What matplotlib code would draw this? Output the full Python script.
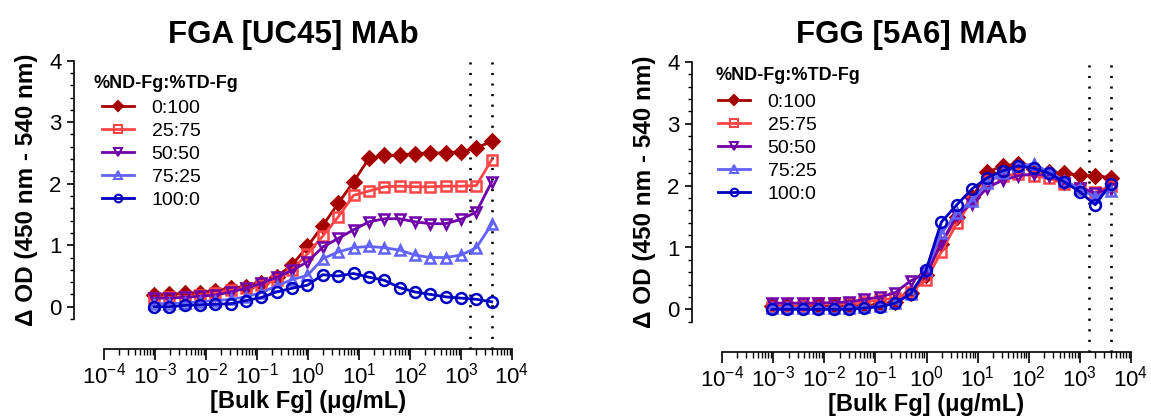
import matplotlib
matplotlib.use("Agg")
import matplotlib.pyplot as plt
from matplotlib.ticker import LogLocator, MultipleLocator, NullFormatter, FixedLocator
from matplotlib.lines import Line2D

plt.rcParams['font.family'] = ['Liberation Sans', 'DejaVu Sans']
plt.rcParams['mathtext.default'] = 'regular'

# 2-fold dilution series of bulk fibrinogen (ug/mL)
conc = [0.00095, 0.0019, 0.0038, 0.0076, 0.0153, 0.0305, 0.061, 0.122, 0.244,
        0.488, 0.977, 1.95, 3.91, 7.81, 15.6, 31.3, 62.5, 125, 250, 500,
        1000, 2000, 4000]

# normal plasma fibrinogen range
plasma_range = [1500, 4000]

mixes = ["0:100", "25:75", "50:50", "75:25", "100:0"]

# FGA [UC45] MAb
fga_0_100 = [0.19, 0.20, 0.22, 0.23, 0.26, 0.30, 0.32, 0.38, 0.49, 0.68, 0.98, 1.32, 1.68,
             2.03, 2.41, 2.46, 2.46, 2.49, 2.50, 2.50, 2.52, 2.58, 2.69]
fga_25_75 = [0.14, 0.15, 0.16, 0.19, 0.22, 0.27, 0.30, 0.35, 0.44, 0.60, 0.86, 1.15, 1.46,
             1.81, 1.88, 1.95, 1.96, 1.95, 1.95, 1.96, 1.96, 1.97, 2.39]
fga_50_50 = [0.14, 0.14, 0.15, 0.17, 0.19, 0.24, 0.30, 0.38, 0.48, 0.59, 0.73, 0.97, 1.11,
             1.25, 1.38, 1.43, 1.43, 1.38, 1.35, 1.35, 1.42, 1.54, 2.03]
fga_75_25 = [0.05, 0.05, 0.06, 0.08, 0.10, 0.12, 0.16, 0.23, 0.34, 0.44, 0.51, 0.78, 0.89,
             0.96, 0.98, 0.96, 0.92, 0.84, 0.80, 0.80, 0.84, 0.96, 1.34]
fga_100_0 = [0.00, 0.00, 0.02, 0.03, 0.04, 0.05, 0.10, 0.15, 0.24, 0.30, 0.35, 0.52, 0.50,
             0.54, 0.48, 0.43, 0.31, 0.24, 0.20, 0.16, 0.14, 0.12, 0.08]

# FGG [5A6] MAb
fgg_0_100 = [0.05, 0.05, 0.05, 0.05, 0.05, 0.05, 0.06, 0.08, 0.12, 0.26, 0.55, 1.06, 1.49,
             1.81, 2.22, 2.32, 2.35, 2.27, 2.22, 2.20, 2.17, 2.16, 2.13]
fgg_25_75 = [0.04, 0.04, 0.05, 0.10, 0.10, 0.10, 0.12, 0.15, 0.18, 0.28, 0.47, 0.93, 1.39,
             1.77, 2.08, 2.16, 2.19, 2.16, 2.12, 2.03, 1.97, 1.89, 2.00]
fgg_50_50 = [0.10, 0.10, 0.10, 0.10, 0.11, 0.12, 0.16, 0.20, 0.27, 0.46, 0.58, 1.07, 1.52,
             1.71, 1.97, 2.09, 2.16, 2.19, 2.16, 2.05, 1.97, 1.88, 1.95]
fgg_75_25 = [0.02, 0.02, 0.02, 0.02, 0.02, 0.02, 0.03, 0.05, 0.10, 0.25, 0.63, 1.23, 1.55,
             1.76, 2.05, 2.21, 2.32, 2.35, 2.22, 2.08, 1.95, 1.81, 1.92]
fgg_100_0 = [0.00, 0.00, 0.00, 0.00, 0.00, 0.00, 0.02, 0.04, 0.10, 0.25, 0.63, 1.41, 1.69,
             1.95, 2.13, 2.24, 2.32, 2.28, 2.20, 2.06, 1.90, 1.69, 2.03]

colors = ['#A50000', '#FF4545', '#7000A8', '#6262FF', '#0000C0']
markers = ['D', 's', 'v', '^', 'o']
fills = [True, False, False, False, False]

W, H = 1151, 419


def fig_rect(x0, x1, ytop, ybot):
    return [x0 / W, 1 - ybot / H, (x1 - x0) / W, (ybot - ytop) / H]


def draw_panel(fig, rect, series, title, title_x, leg_title_xy, leg_xy):
    ax = fig.add_axes(rect)
    for ys, c, m, f in zip(series, colors, markers, fills):
        ms = 7 if m == 'D' else 7.8
        ax.plot(conc, ys, color=c, marker=m, markersize=ms, lw=2.0, mew=1.8,
                markerfacecolor=c if f else 'none', markeredgecolor=c, clip_on=False)

    for xv in plasma_range:
        ax.axvline(xv, ymin=-0.118, ymax=1.0, color='black', lw=1.9,
                   linestyle=(0, (0.8, 3.2)), clip_on=False, zorder=1)

    ax.set_xscale('log')
    ax.set_xlim(1e-4, 1e4)
    ax.set_ylim(-0.2, 4)

    ax.xaxis.set_major_locator(FixedLocator([10.0 ** k for k in range(-4, 5)]))
    ax.set_xticklabels([f'$10^{{{k}}}$' for k in range(-4, 5)])
    ax.xaxis.set_minor_locator(LogLocator(base=10, subs=range(2, 10), numticks=20))
    ax.xaxis.set_minor_formatter(NullFormatter())
    ax.yaxis.set_major_locator(FixedLocator([0, 1, 2, 3, 4]))
    ax.yaxis.set_minor_locator(MultipleLocator(0.2))

    for s in ['top', 'right']:
        ax.spines[s].set_visible(False)
    ax.spines['left'].set_position(('outward', 21.5))
    ax.spines['bottom'].set_position(('outward', 21.5))
    ax.spines['left'].set_linewidth(1.2)
    ax.spines['bottom'].set_linewidth(1.2)

    ax.tick_params(axis='x', which='major', length=8, width=1.2, labelsize=16, pad=2)
    ax.tick_params(axis='x', which='minor', length=4.5, width=1.0)
    ax.tick_params(axis='y', which='major', length=5, width=1.2, labelsize=16, pad=4)
    ax.tick_params(axis='y', which='minor', length=3, width=1.0)

    ax.set_ylabel('Δ OD (450 nm - 540 nm)', fontsize=17.5, fontweight='bold', labelpad=8)
    ax.set_xlabel('[Bulk Fg] (μg/mL)', fontsize=17, fontweight='bold', labelpad=1)

    fig.text(title_x / W, 1 - 35 / H, title, fontsize=22.5, fontweight='bold',
             ha='center', va='center')

    fig.text(leg_title_xy[0] / W, 1 - leg_title_xy[1] / H, '%ND-Fg:%TD-Fg',
             fontsize=13, fontweight='bold', ha='left', va='center')
    handles = [Line2D([], [], color=c, marker=m, markersize=5.5, lw=2.0, mew=1.5,
                      markerfacecolor=c if f else 'none', markeredgecolor=c)
               for c, m, f in zip(colors, markers, fills)]
    ax.legend(handles, mixes, loc='upper left', bbox_to_anchor=(leg_xy[0] / W, 1 - leg_xy[1] / H),
              bbox_transform=fig.transFigure, frameon=False, borderpad=0, borderaxespad=0,
              handlelength=1.65, handletextpad=0.9, labelspacing=0.28, fontsize=14)
    return ax


fig = plt.figure(figsize=(W / 100, H / 100), dpi=100)

fga = [fga_0_100, fga_25_75, fga_50_50, fga_75_25, fga_100_0]
fgg = [fgg_0_100, fgg_25_75, fgg_50_50, fgg_75_25, fgg_100_0]

draw_panel(fig, fig_rect(104, 512, 60.7, 319), fga, 'FGA [UC45] MAb', 293,
           (94, 84), (102, 99))
draw_panel(fig, fig_rect(722, 1131, 62, 321.7), fgg, 'FGG [5A6] MAb', 912,
           (715, 76), (718, 93))

fig.savefig('out.png', dpi=100)
